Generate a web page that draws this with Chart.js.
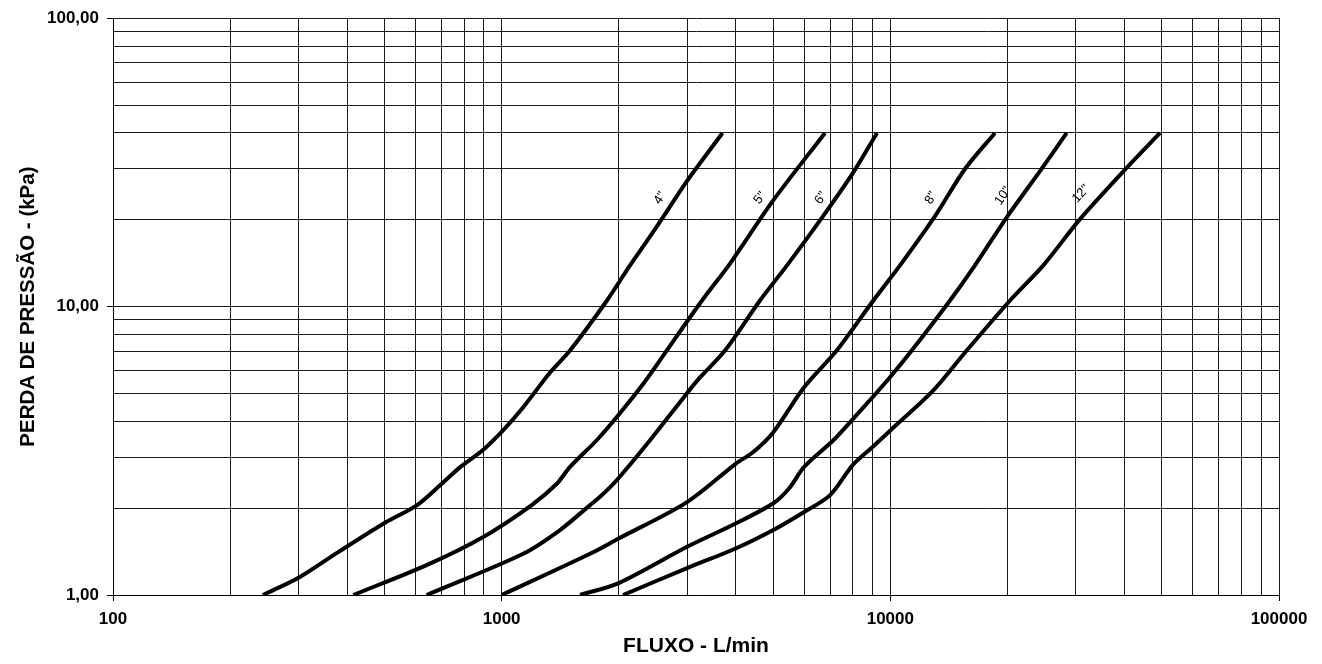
<!DOCTYPE html>
<html><head><meta charset="utf-8">
<script src="https://cdn.jsdelivr.net/npm/chart.js@4"></script>
<style>html,body{margin:0;padding:0;background:#fff}canvas{display:block}</style>
</head><body>
<canvas id="c" width="1322" height="664"></canvas>
<script>
// Series names (pipe diameter)
const seriesNames = ['4"', '5"', '6"', '8"', '10"', '12"'];

// Flow (L/min) and pressure loss (kPa)
const q4  = [243, 301, 377, 501, 606, 694, 781, 895, 1008, 1135, 1332, 1499, 1866, 2139, 2380, 2600, 3000, 3700];
const p4  = [1.00, 1.15, 1.40, 1.78, 2.05, 2.40, 2.77, 3.18, 3.72, 4.47, 5.91, 7.04, 10.5, 13.9, 17.1, 20.4, 27.3, 40];

const q5  = [415, 641, 897, 1195, 1386, 1499, 1756, 1995, 2314, 2658, 3277, 3868, 4991, 6790];
const p5  = [1.00, 1.27, 1.59, 2.05, 2.43, 2.78, 3.44, 4.20, 5.40, 7.04, 10.5, 14.1, 23.3, 40];

const q6  = [641, 1136, 1413, 1688, 1791, 1977, 2408, 2992, 3238, 3755, 4620, 5422, 6713, 8015, 9242];
const p6  = [1.00, 1.39, 1.68, 2.05, 2.19, 2.50, 3.44, 4.99, 5.68, 7.04, 10.5, 13.9, 20.6, 29.1, 40];

const q8  = [1000, 1688, 2000, 3000, 4000, 4440, 5000, 6000, 7278, 9042, 10590, 13030, 15560, 18590];
const p8  = [1.00, 1.39, 1.57, 2.10, 2.85, 3.13, 3.67, 5.25, 7.04, 10.5, 13.9, 20.6, 30.0, 40];

const q10 = [1591, 2000, 3000, 4000, 5000, 5500, 6000, 7134, 8031, 9000, 9980, 11350, 14240, 16510, 19930, 24270, 28430];
const p10 = [1.00, 1.10, 1.47, 1.77, 2.08, 2.35, 2.78, 3.44, 4.09, 4.85, 5.69, 7.04, 10.5, 13.9, 20.4, 29.5, 40];

const q12 = [2052, 3000, 4000, 5000, 6000, 7000, 8000, 9000, 10000, 12900, 15720, 20320, 24750, 30760, 40570, 49410];
const p12 = [1.00, 1.24, 1.45, 1.68, 1.94, 2.22, 2.82, 3.26, 3.72, 5.12, 7.04, 10.5, 13.9, 20.1, 30.3, 40];

// Where the curve name labels sit (data coordinates)
const labelQ = [2555, 4620, 6633, 12730, 19500, 30940];
const labelP = [23.8, 23.8, 23.8, 23.8, 24.2, 24.6];

// Axis ticks / labels
const xMajorTicks = [100, 1000, 10000, 100000];
const xTickLabels = ['100', '1000', '10000', '100000'];
const yMajorTicks = [1, 10, 100];
const yTickLabels = ['1,00', '10,00', '100,00'];
const xTitle = 'FLUXO - L/min';
const yTitle = 'PERDA DE PRESSÃO - (kPa)';

const seriesQ = [q4, q5, q6, q8, q10, q12];
const seriesP = [p4, p5, p6, p8, p10, p12];

function gridTicks(majors) {
  const t = [];
  for (let i = 0; i < majors.length - 1; i++) {
    for (let m = 1; m < 10; m++) t.push(m * majors[i]);
  }
  t.push(majors[majors.length - 1]);
  return t;
}

const FONT = '"Liberation Sans", Arial, Helvetica, sans-serif';

const curveLabels = {
  id: 'curveLabels',
  afterDatasetsDraw(chart) {
    const { ctx, scales: { x, y } } = chart;
    ctx.save();
    ctx.font = '13px ' + FONT;
    ctx.fillStyle = '#000';
    ctx.textAlign = 'center';
    ctx.textBaseline = 'middle';
    seriesNames.forEach((name, i) => {
      const qs = seriesQ[i], ps = seriesP[i];
      const px = x.getPixelForValue(labelQ[i]);
      const py = y.getPixelForValue(labelP[i]);
      let k = ps.findIndex(v => v >= labelP[i]);
      if (k < 1) k = 1;
      const x1 = x.getPixelForValue(qs[k - 1]), y1 = y.getPixelForValue(ps[k - 1]);
      const x2 = x.getPixelForValue(qs[k]), y2 = y.getPixelForValue(ps[k]);
      const ang = Math.atan2(y2 - y1, x2 - x1);
      ctx.save();
      ctx.translate(px, py);
      ctx.rotate(ang);
      ctx.fillText(name, 0, 0);
      ctx.restore();
    });
    ctx.restore();
  }
};

const datasets = seriesNames.map((name, i) => ({
  label: name,
  data: seriesQ[i].map((q, j) => ({ x: q, y: seriesP[i][j] })),
  borderColor: '#000',
  backgroundColor: '#000',
  borderWidth: 4,
  pointRadius: 0,
  fill: false,
  tension: 0.3
}));

new Chart(document.getElementById('c'), {
  type: 'line',
  data: { datasets },
  plugins: [curveLabels],
  options: {
    responsive: false,
    animation: false,
    devicePixelRatio: 1,
    layout: { padding: { left: 8, top: 17, right: 43, bottom: 0 } },
    plugins: { legend: { display: false }, tooltip: { enabled: false } },
    scales: {
      x: {
        type: 'logarithmic',
        position: 'bottom',
        min: 100, max: 100000,
        afterBuildTicks: s => { s.ticks = gridTicks(xMajorTicks).map(v => ({ value: v, major: xMajorTicks.includes(v) })); },
        afterFit: s => { s.height = 69; },
        ticks: {
          autoSkip: false, maxRotation: 0, minRotation: 0, padding: 8,
          color: '#000', font: { family: FONT, size: 17, weight: 'bold' },
          callback: v => { const k = xMajorTicks.indexOf(v); return k >= 0 ? xTickLabels[k] : ''; }
        },
        grid: {
          color: '#1a1a1a', lineWidth: 1, tickLength: 6,
          tickColor: c => (c.tick && xMajorTicks.includes(c.tick.value)) ? '#000' : 'rgba(0,0,0,0)'
        },
        border: { display: true, color: '#000', width: 1 },
        title: { display: true, text: xTitle, color: '#000', font: { family: FONT, size: 21, weight: 'bold' }, padding: { top: 0, bottom: 5 } }
      },
      y: {
        type: 'logarithmic',
        position: 'left',
        min: 1, max: 100,
        afterBuildTicks: s => { s.ticks = gridTicks(yMajorTicks).map(v => ({ value: v, major: yMajorTicks.includes(v) })); },
        afterFit: s => { s.width = 105; },
        ticks: {
          autoSkip: false, padding: 8,
          color: '#000', font: { family: FONT, size: 17, weight: 'bold' },
          callback: v => { const k = yMajorTicks.indexOf(v); return k >= 0 ? yTickLabels[k] : ''; }
        },
        grid: {
          color: '#1a1a1a', lineWidth: 1, tickLength: 6,
          tickColor: c => (c.tick && yMajorTicks.includes(c.tick.value)) ? '#000' : 'rgba(0,0,0,0)'
        },
        border: { display: true, color: '#000', width: 1 },
        title: { display: true, text: yTitle, color: '#000', font: { family: FONT, size: 20.5, weight: 'bold' }, padding: { top: 8, bottom: 0 } }
      }
    }
  }
});
</script>
</body></html>
